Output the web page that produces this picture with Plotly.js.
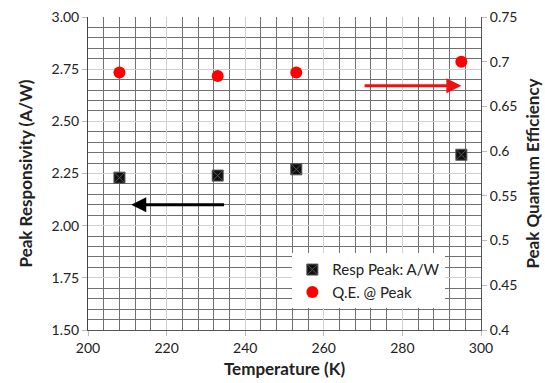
<!DOCTYPE html>
<html>
<head>
<meta charset="utf-8">
<script src="https://cdn.plot.ly/plotly-3.0.1.min.js"></script>
<style>html,body{margin:0;padding:0;background:#fff;}#chart{width:545px;height:383px;}</style>
</head>
<body>
<div id="chart"></div>
<script>
const temperatures = [208, 233, 253, 295];
const respPeak = [2.23, 2.24, 2.27, 2.34];
const qePeak = [0.688, 0.684, 0.688, 0.70];
const respName = 'Resp Peak: A/W';
const qeName = 'Q.E. @ Peak';
const xTitle = 'Temperature (K)';
const yTitle = 'Peak Responsivity (A/W)';
const y2Title = 'Peak Quantum Efficiency';
// arrows: [tailX, tailY, headX, headY]
const blackArrow = [235, 2.10, 211, 2.10];
const redArrow = [270, 0.673, 295, 0.673];

const font = 'Lato, "Open Sans", sans-serif';

// minor grid positions (styling of the axes)
const yMinor = [];
for (let i = 0; i <= 30; i++) { if (i % 5 !== 0) yMinor.push(+(1.5 + i * 0.05).toFixed(2)); }
const xMinor = [];
for (let i = 0; i <= 25; i++) { if (i % 5 !== 0) xMinor.push(200 + i * 4); }

const traces = [
  {x: temperatures, y: respPeak, name: respName, type: 'scatter', mode: 'markers',
   marker: {symbol: 'square-x', size: 11, color: '#111', line: {color: '#555', width: 1}}},
  {x: temperatures, y: qePeak, name: qeName, type: 'scatter', mode: 'markers', yaxis: 'y2',
   marker: {symbol: 'circle', size: 12, color: '#ff0000'}}
];

const layout = {
  width: 545, height: 383,
  margin: {l: 88, r: 64, t: 17, b: 53},
  paper_bgcolor: '#fff', plot_bgcolor: '#fff',
  font: {family: font, size: 13, color: '#222'},
  showlegend: true,
  legend: {x: 0.52, y: 0.245, xanchor: 'left', yanchor: 'top', bgcolor: '#fff',
           font: {family: font, size: 15, color: '#222'}, itemwidth: 30, tracegroupgap: 2},
  xaxis: {range: [200, 300], dtick: 20, tick0: 200, showgrid: true, gridcolor: '#d0d0d0', gridwidth: 1,
          minor: {tickmode: 'array', tickvals: xMinor, showgrid: true, gridcolor: '#707070', gridwidth: 1},
          showline: true, linecolor: '#555', linewidth: 1, mirror: false,
          ticks: 'outside', ticklen: 5, tickcolor: '#bbb', zeroline: false,
          tickfont: {family: font, size: 14, color: '#222'},
          title: {text: xTitle, font: {family: font, size: 17, color: '#222', weight: 'bold'}, standoff: 8}},
  yaxis: {range: [1.5, 3.0], dtick: 0.25, tick0: 1.5, tickformat: '.2f', showgrid: true, gridcolor: '#d0d0d0',
          minor: {tickmode: 'array', tickvals: yMinor, showgrid: true, gridcolor: '#707070', gridwidth: 1},
          showline: true, linecolor: '#444', linewidth: 1,
          ticks: 'outside', ticklen: 5, tickcolor: '#bbb', zeroline: false,
          tickfont: {family: font, size: 14, color: '#222'},
          title: {text: yTitle, font: {family: font, size: 17, color: '#222', weight: 'bold'}, standoff: 14}},
  yaxis2: {range: [0.4, 0.75], dtick: 0.05, tick0: 0.4, overlaying: 'y', side: 'right', showgrid: false,
           showline: true, linecolor: '#555', linewidth: 1, ticks: 'outside', ticklen: 5, tickcolor: '#bbb',
           zeroline: false, tickfont: {family: font, size: 14, color: '#222'},
           title: {text: y2Title, font: {family: font, size: 17, color: '#222', weight: 'bold'}, standoff: 10}},
  annotations: [
    {x: blackArrow[2], y: blackArrow[3], ax: blackArrow[0], ay: blackArrow[1], xref: 'x', yref: 'y',
     axref: 'x', ayref: 'y', showarrow: true, arrowhead: 2, arrowsize: 1, arrowwidth: 3, arrowcolor: '#000', text: ''},
    {x: redArrow[2], y: redArrow[3], ax: redArrow[0], ay: redArrow[1], xref: 'x', yref: 'y2',
     axref: 'x', ayref: 'y2', showarrow: true, arrowhead: 2, arrowsize: 1, arrowwidth: 3, arrowcolor: '#ee1111', text: ''}
  ]
};

Plotly.newPlot('chart', traces, layout, {displayModeBar: false, staticPlot: true});
</script>
</body>
</html>
